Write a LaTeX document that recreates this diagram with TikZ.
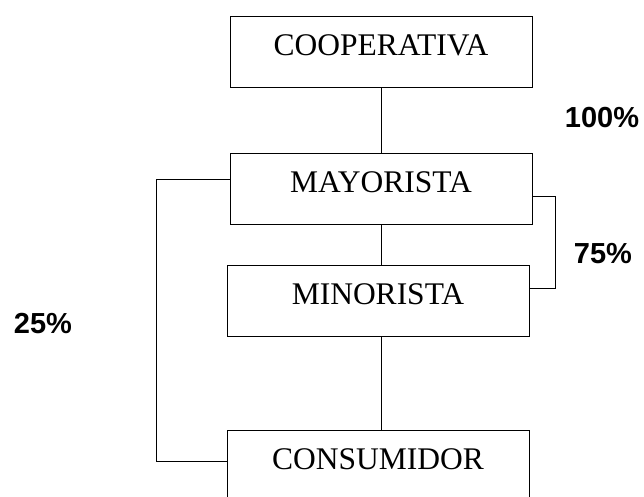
\documentclass[tikz,border=0pt]{standalone}
\usepackage{fontspec}
\setmainfont{Liberation Serif}
\newfontfamily\pctfont{Liberation Sans}
\usetikzlibrary{calc, positioning}

\begin{document}
\begin{tikzpicture}[x=1pt, y=-1pt, line width=1pt,
    box/.style={draw, rectangle, minimum width=302pt, inner xsep=0pt, inner ysep=0pt,
        text height=39pt, text depth=32pt, font=\fontsize{31.5}{32}\selectfont},
    pct/.style={font=\pctfont\bfseries\fontsize{29}{29}\selectfont}]

    \useasboundingbox (0,0) rectangle (644,496);
    \clip (0,0) rectangle (644,496);

    \node[box] (coop) at (381,51.5) {COOPERATIVA};
    \node[box] (mayo) at (381,188.5) {MAYORISTA};
    \node[box] (mino) at (378,300.5) {MINORISTA};
    \node[box] (cons) at (378,466) {CONSUMIDOR};

    \node[pct] (p100) at (602,117.5) {100\%};
    \node[pct] (p75) at (603,254) {75\%};
    \node[pct] (p25) at (43,324) {25\%};

    \draw (coop) -- (mayo);
    \draw (mayo.south) -- (mayo.south |- mino.north);
    \draw (mino.south -| coop) -- (cons.north -| coop);

    \draw ($(mayo.west)+(0,-9.5)$) -- ++(-73,0) |- ($(cons.west)+(0,-5)$);
    \draw ($(mayo.east)+(0,7.5)$) -- ++(23,0) |- ($(mino.east)+(0,-12.5)$);

\end{tikzpicture}
\end{document}
